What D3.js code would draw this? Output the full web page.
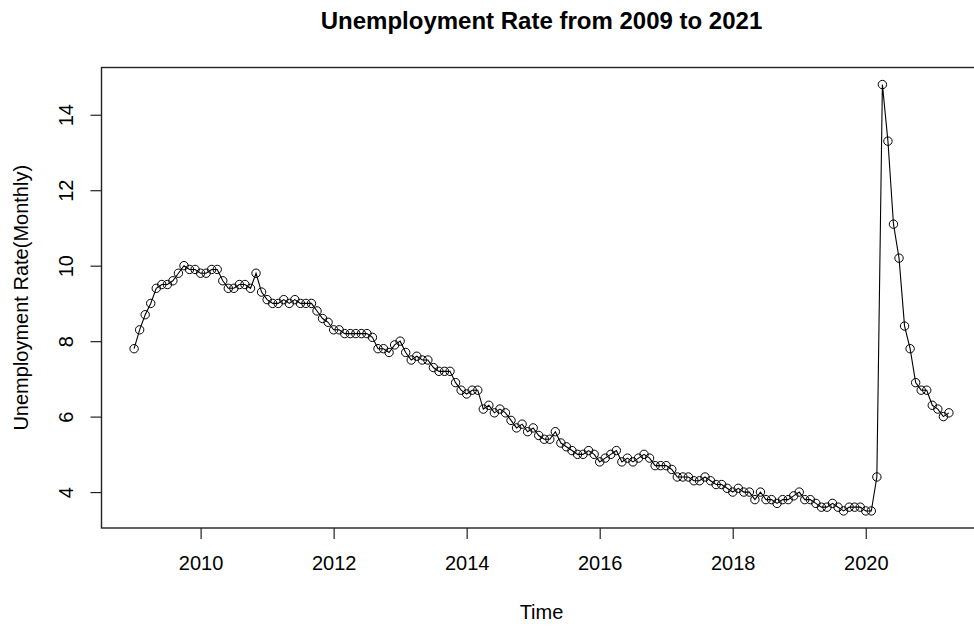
<!DOCTYPE html>
<html>
<head>
<meta charset="utf-8">
<script src="https://cdn.jsdelivr.net/npm/d3@7"></script>
<style>
  body { margin: 0; background: #fff; }
  svg { display: block; font-family: "Liberation Sans", Arial, sans-serif; }
</style>
</head>
<body>
<div id="chart"></div>
<script>
// Monthly series, Jan 2009 .. Apr 2021
const startYear = 2009;
const rates = [
  7.8, 8.3, 8.7, 9.0, 9.4, 9.5, 9.5, 9.6, 9.8, 10.0, 9.9, 9.9,   // 2009
  9.8, 9.8, 9.9, 9.9, 9.6, 9.4, 9.4, 9.5, 9.5, 9.4, 9.8, 9.3,    // 2010
  9.1, 9.0, 9.0, 9.1, 9.0, 9.1, 9.0, 9.0, 9.0, 8.8, 8.6, 8.5,    // 2011
  8.3, 8.3, 8.2, 8.2, 8.2, 8.2, 8.2, 8.1, 7.8, 7.8, 7.7, 7.9,    // 2012
  8.0, 7.7, 7.5, 7.6, 7.5, 7.5, 7.3, 7.2, 7.2, 7.2, 6.9, 6.7,    // 2013
  6.6, 6.7, 6.7, 6.2, 6.3, 6.1, 6.2, 6.1, 5.9, 5.7, 5.8, 5.6,    // 2014
  5.7, 5.5, 5.4, 5.4, 5.6, 5.3, 5.2, 5.1, 5.0, 5.0, 5.1, 5.0,    // 2015
  4.8, 4.9, 5.0, 5.1, 4.8, 4.9, 4.8, 4.9, 5.0, 4.9, 4.7, 4.7,    // 2016
  4.7, 4.6, 4.4, 4.4, 4.4, 4.3, 4.3, 4.4, 4.3, 4.2, 4.2, 4.1,    // 2017
  4.0, 4.1, 4.0, 4.0, 3.8, 4.0, 3.8, 3.8, 3.7, 3.8, 3.8, 3.9,    // 2018
  4.0, 3.8, 3.8, 3.7, 3.6, 3.6, 3.7, 3.6, 3.5, 3.6, 3.6, 3.6,    // 2019
  3.5, 3.5, 4.4, 14.8, 13.3, 11.1, 10.2, 8.4, 7.8, 6.9, 6.7, 6.7, // 2020
  6.3, 6.2, 6.0, 6.1                                              // 2021
];
const xTicks = [2010, 2012, 2014, 2016, 2018, 2020];
const yTicks = [4, 6, 8, 10, 12, 14];

const title = 'Unemployment Rate from 2009 to 2021';
const xLabel = 'Time';
const yLabel = 'Unemployment Rate(Monthly)';

const width = 974, height = 629;
const box = { left: 101.5, right: 981.5, top: 67.5, bottom: 528 };

const data = rates.map((v, i) => ({ t: startYear + i / 12, v }));

// R-style 4% axis extension
const tExt = d3.extent(data, d => d.t);
const vExt = d3.extent(data, d => d.v);
const tPad = (tExt[1] - tExt[0]) * 0.04;
const vPad = (vExt[1] - vExt[0]) * 0.04;

const x = d3.scaleLinear()
  .domain([tExt[0] - tPad, tExt[1] + tPad])
  .range([box.left, box.right]);

const y = d3.scaleLinear()
  .domain([vExt[0] - vPad, vExt[1] + vPad])
  .range([box.bottom, box.top]);

const svg = d3.select('#chart')
  .append('svg')
  .attr('width', width)
  .attr('height', height);

// Title
svg.append('text')
  .attr('x', (box.left + box.right) / 2)
  .attr('y', 29)
  .attr('text-anchor', 'middle')
  .style('font-size', '24px')
  .style('font-weight', 'bold')
  .text(title);

// Series line + open circles
const line = d3.line().x(d => x(d.t)).y(d => y(d.v));

svg.append('path')
  .datum(data)
  .attr('d', line)
  .attr('fill', 'none')
  .attr('stroke', '#000')
  .attr('stroke-width', 1.1);

svg.append('g')
  .selectAll('circle')
  .data(data)
  .enter()
  .append('circle')
  .attr('cx', d => x(d.t))
  .attr('cy', d => y(d.v))
  .attr('r', 4.2)
  .attr('fill', 'none')
  .attr('stroke', '#000')
  .attr('stroke-width', 1);

// Box
svg.append('rect')
  .attr('x', box.left)
  .attr('y', box.top)
  .attr('width', box.right - box.left)
  .attr('height', box.bottom - box.top)
  .attr('fill', 'none')
  .attr('stroke', '#222')
  .attr('stroke-width', 1.4);

// X axis
const xAxis = d3.axisBottom(x)
  .tickValues(xTicks)
  .tickFormat(d3.format('d'))
  .tickSize(11)
  .tickPadding(17);

const gx = svg.append('g')
  .attr('transform', `translate(0, ${box.bottom})`)
  .call(xAxis);
gx.select('.domain').remove();
gx.selectAll('line').attr('stroke', '#222').attr('stroke-width', 1.2);
gx.selectAll('text').style('font-size', '20px').attr('fill', '#000')
  .attr('font-family', null);

// Y axis (labels parallel to the axis, like R)
const yAxis = d3.axisLeft(y)
  .tickValues(yTicks)
  .tickSize(11);

const gy = svg.append('g')
  .attr('transform', `translate(${box.left}, 0)`)
  .call(yAxis);
gy.select('.domain').remove();
gy.selectAll('line').attr('stroke', '#222').attr('stroke-width', 1.2);
gy.selectAll('text')
  .style('font-size', '20px')
  .attr('fill', '#000')
  .attr('font-family', null)
  .attr('x', null)
  .attr('dy', null)
  .attr('text-anchor', 'middle')
  .attr('transform', 'translate(-29, 0) rotate(-90)');

// Axis titles
svg.append('text')
  .attr('x', (box.left + box.right) / 2)
  .attr('y', 619)
  .attr('text-anchor', 'middle')
  .style('font-size', '20px')
  .text(xLabel);

svg.append('text')
  .attr('transform', `translate(28, ${(box.top + box.bottom) / 2}) rotate(-90)`)
  .attr('text-anchor', 'middle')
  .style('font-size', '20px')
  .text(yLabel);
</script>
</body>
</html>
